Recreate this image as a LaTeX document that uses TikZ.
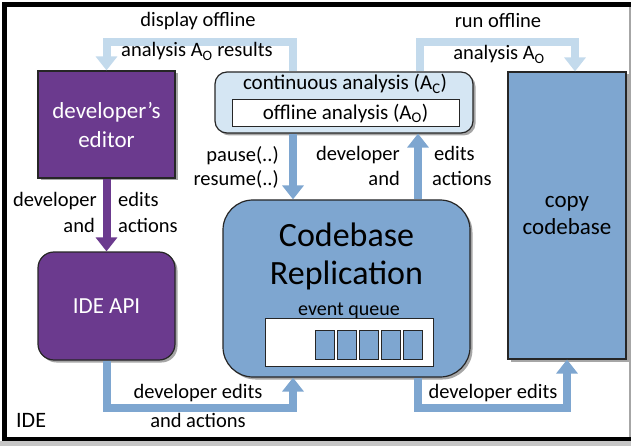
\documentclass[tikz,border=0pt]{standalone}
\usepackage{fontspec}
\setmainfont{Carlito}
\usetikzlibrary{arrows.meta,shadows,calc}
\definecolor{purp}{HTML}{6B3A8E}
\definecolor{purpd}{HTML}{3B1F52}
\definecolor{blu}{HTML}{7EA6D0}
\definecolor{lblu}{HTML}{D5E6F3}
\definecolor{larr}{HTML}{C3DAEC}
\begin{document}
\begin{tikzpicture}[x=1pt,y=-1pt,
  lab/.style={inner sep=0pt,text height=15pt,text depth=5pt,font=\fontsize{20.5}{24}\selectfont},
  boxshadow/.style={drop shadow={shadow xshift=2.5pt,shadow yshift=-2.5pt,opacity=0.35,fill=black}},
  box/.style={draw=black!85,line width=1.2pt,boxshadow},
  fat/.style={line width=8pt,-{Triangle[width=21pt,length=14pt]}},
]
\useasboundingbox (0,0) rectangle (631,446);
% frame
\fill[gray!45] (0,441) rectangle (631,446);
\draw[line width=1.5pt,gray!70] (630,4.5) -- (630,439);
\draw[line width=4.5pt] (640,4.5) -- (4.5,4.5) -- (4.5,439) -- (640,439);

% boxes
\node[box,fill=purp,minimum width=137pt,minimum height=107pt,align=center,text=white,
  font=\fontsize{23}{29}\selectfont] (ed) at (106.5,124.5) {developer's\\editor};
\node[box,fill=purp,rounded corners=16pt,minimum width=137pt,minimum height=108pt,text=white,
  font=\fontsize{23}{29}\selectfont] (api) at (106.5,306) {IDE API};
\node[box,fill=lblu,rounded corners=12pt,minimum width=258pt,minimum height=61pt] (cont) at (344,102.5) {};
\node[lab,font=\fontsize{21}{24}\selectfont] (contt) at (345,85) {continuous analysis (A\textsubscript{C})};
\node[draw=black!85,line width=1pt,fill=white,minimum width=227pt,minimum height=27pt,inner sep=0pt,
  font=\fontsize{21}{24}\selectfont] (off) at (345.5,113.5) {offline analysis (A\textsubscript{O})};
\node[box,fill=blu,rounded corners=30pt,minimum width=247pt,minimum height=177pt] (cb) at (346.5,288.5) {};
\node[align=center,inner sep=0pt,font=\fontsize{34}{38}\selectfont] (cbt) at (346.5,256) {Codebase\\Replication};
\node[lab,font=\fontsize{20}{24}\selectfont] (eqt) at (349,310) {event queue};
\node[draw=black!85,line width=1pt,fill=white,minimum width=168pt,minimum height=48pt] (eq) at (349,342) {};
\foreach \i in {0,...,4}
  \node[draw=black!85,line width=1pt,fill=blu,minimum width=19pt,minimum height=29pt,inner sep=0pt] (q\i) at (324.5+22*\i,344.5) {};
\node[box,fill=blu,minimum width=118pt,minimum height=287pt,align=center,
  font=\fontsize{23}{27}\selectfont] (copy) at (567,215.5) {copy\\codebase};

% corner coordinates
\coordinate (tl) at (293,42);
\coordinate (tr) at (420,42);
\coordinate (trr) at (575,42);
\coordinate (blr) at (293,408);
\coordinate (br) at (418,408);
\coordinate (brr) at (567,408);

% connectors
\draw[fat,larr] (tl |- cont.north) -- (tl) -| (ed.north);
\draw[fat,larr] (tr |- cont.north) -- (tr) -- (trr) -- (trr |- copy.north);
\draw[fat,blu] (tl |- cont.south) -- (tl |- cb.north);
\draw[fat,blu] (br |- cb.north) -- (br |- cont.south);
\draw[fat,purp] (ed.south) -- (api.north);
\draw[fat,blu] (api.south) |- (blr) -- (blr |- cb.south);
\draw[fat,blu] (br |- cb.south) -- (br) -- (brr) -- (copy.south);

% labels
\node[lab] (l1) at (198,22) {display offline};
\node[lab] (l2) at (197,52) {analysis A\textsubscript{O} results};
\node[lab] (l3) at (498,23) {run offline};
\node[lab] (l4) at (499,55) {analysis A\textsubscript{O}};
\node[lab,anchor=east] (l5) at (97,202) {developer};
\node[lab,anchor=east] (l6) at (95,228) {and};
\node[lab,anchor=west] (l7) at (118,202) {edits};
\node[lab,anchor=west] (l8) at (118,228) {actions};
\node[lab,anchor=east] (l9) at (279,157) {pause(..)};
\node[lab,anchor=east] (l10) at (279,181) {resume(..)};
\node[lab,anchor=east] (l11) at (400,156) {developer};
\node[lab,anchor=east] (l12) at (400,181) {and};
\node[lab,anchor=west] (l13) at (434,156) {edits};
\node[lab,anchor=west] (l14) at (432,181) {actions};
\node[lab] (l15) at (198,393) {developer edits};
\node[lab] (l16) at (198,422) {and actions};
\node[lab] (l17) at (493,393) {developer edits};
\node[lab,anchor=west,font=\fontsize{22}{24}\selectfont] (l18) at (16,422) {IDE};
\end{tikzpicture}
\end{document}
